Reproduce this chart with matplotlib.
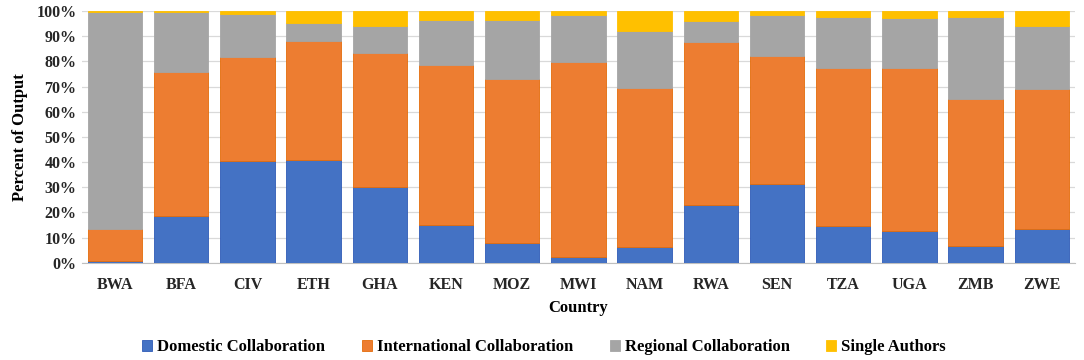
import numpy as np
import matplotlib
matplotlib.use("Agg")
import matplotlib.pyplot as plt
from matplotlib.ticker import PercentFormatter

# Share of output per country (%)
countries = ['BWA', 'BFA', 'CIV', 'ETH', 'GHA', 'KEN', 'MOZ', 'MWI',
             'NAM', 'RWA', 'SEN', 'TZA', 'UGA', 'ZMB', 'ZWE']
domestic = [0.7, 18.5, 40.3, 40.7, 30.1, 14.9, 7.9, 2.3, 6.1, 22.9, 31.3, 14.6, 12.6, 6.7, 13.4]
international = [12.7, 57.4, 41.6, 47.4, 53.3, 63.7, 65.3, 77.5, 63.3, 64.7, 51.0, 62.9, 64.9, 58.3, 55.6]
regional = [86.2, 23.7, 16.8, 7.1, 10.7, 17.8, 23.2, 18.6, 22.6, 8.5, 16.1, 20.0, 19.8, 32.5, 25.1]
single = [0.4, 0.4, 1.3, 4.8, 5.9, 3.6, 3.6, 1.6, 8.0, 3.9, 1.6, 2.5, 2.7, 2.5, 5.9]

series = [
    ('Domestic Collaboration', domestic, '#4472C4', '#2F5BB7'),
    ('International Collaboration', international, '#ED7D31', '#E46C0A'),
    ('Regional Collaboration', regional, '#A5A5A5', '#A5A5A5'),
    ('Single Authors', single, '#FFC000', '#FFC000'),
]

plt.rcParams['font.family'] = ['Liberation Serif', 'DejaVu Serif']

fig = plt.figure(figsize=(10.84, 3.6), dpi=100)
ax = fig.add_axes([0.0756, 0.270, 0.916, 0.699])

x = np.arange(len(countries))
bottom = np.zeros(len(countries))
for name, vals, color, edge in series:
    vals = np.array(vals)
    ax.bar(x, vals, width=0.82, bottom=bottom, color=color, edgecolor=edge,
           linewidth=0.6, label=name, zorder=3)
    bottom += vals

ax.set_xlim(-0.5, len(countries) - 0.5)
ax.set_ylim(0, 100)
ax.set_yticks(np.arange(0, 101, 10))
ax.yaxis.set_major_formatter(PercentFormatter(decimals=0))
ax.set_xticks(x)
ax.set_xticklabels(countries, fontsize=11.5, fontweight='bold', color='#262626')
for lbl in ax.get_yticklabels():
    lbl.set_fontsize(11.5)
    lbl.set_fontweight('bold')
    lbl.set_color('#262626')

ax.grid(axis='y', color='#D9D9D9', linewidth=0.9, zorder=0)
for s in ['top', 'right', 'left']:
    ax.spines[s].set_visible(False)
ax.spines['bottom'].set_color('#BFBFBF')
ax.tick_params(axis='both', length=0)
ax.tick_params(axis='x', pad=10)
ax.tick_params(axis='y', pad=4)

ax.set_ylabel('Percent of Output', fontsize=12, fontweight='bold', labelpad=6)
ax.set_xlabel('Country', fontsize=12, fontweight='bold', labelpad=5)

fig.legend(loc='center', bbox_to_anchor=(0.502, 0.035), ncol=4, frameon=False,
           handlelength=0.6, handleheight=0.6, handletextpad=0.3,
           columnspacing=2.2, prop={'weight': 'bold', 'size': 12})

fig.savefig('out.png', dpi=100)
